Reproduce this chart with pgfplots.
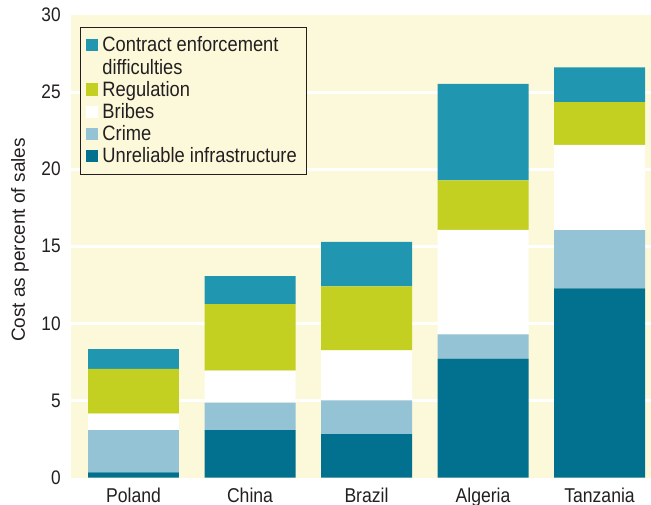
\documentclass[border=0pt]{standalone}
\usepackage{fontspec}
\setmainfont{Liberation Sans}[FakeStretch=0.88]
\newfontfamily\labfont{Liberation Sans}
\usepackage{pgfplots}
\pgfplotsset{compat=1.18}
\definecolor{bg}{HTML}{FCF9DA}
\definecolor{infra}{HTML}{02718F}
\definecolor{crime}{HTML}{93C3D4}
\definecolor{reg}{HTML}{C3D022}
\definecolor{contract}{HTML}{2196B0}
\definecolor{txt}{HTML}{231F20}
\begin{document}
\begin{tikzpicture}
\begin{axis}[
  scale only axis, width=290pt, height=231.25pt,
  ybar stacked, bar width=0.781,
  enlargelimits=false,
  xmin=-0.5365, xmax=4.442, ymin=0, ymax=30,
  xtick={0,...,4}, xticklabels={Poland,China,Brazil,Algeria,Tanzania},
  ytick={0,5,...,30},
  minor ytick={5,10,15,20,25}, yminorgrids,
  minor grid style={white, line width=1.5pt},
  major tick length=0pt, minor tick length=0pt,
  axis line style={draw=none},
  axis background/.style={fill=bg},
  tick label style={text=txt},
  /pgf/number format/assume math mode=true,
  yticklabel style={anchor=east, inner sep=0pt, xshift=-5pt, font=\fontsize{9.8}{12}\selectfont},
  xticklabel style={anchor=north, inner sep=0pt, yshift=-5pt, font=\fontsize{10}{12}\selectfont},
  ylabel={Cost as percent of sales},
  every axis y label/.style={at={(axis description cs:-0.088,0.5135)}, rotate=90, anchor=center, font=\labfont\fontsize{9.5}{11}\selectfont, text=txt},
  legend style={at={(axis description cs:0.0155,0.974)}, anchor=north west,
    fill=bg, draw=txt, line width=0.5pt, font=\fontsize{10.4}{11.2}\selectfont, text=txt,
    inner xsep=3pt, inner ysep=2.2pt, row sep=-2.4pt,
    cells={anchor=west, inner ysep=0pt, inner xsep=1.6pt, text height=8pt, text depth=3.2pt}},
  legend cell align=left,
  legend image code/.code={\fill[#1] (0pt,-3pt) rectangle (6pt,3.2pt);},
]
\addlegendimage{fill=contract, draw=none}
\addlegendimage{empty legend}
\addlegendimage{fill=reg, draw=none}
\addlegendimage{fill=white, draw=none}
\addlegendimage{fill=crime, draw=none}
\addlegendimage{fill=infra, draw=none}
\addplot[fill=infra, draw=none] coordinates {(0,0.34) (1,3.08) (2,2.82) (3,7.71) (4,12.27)};
\addplot[fill=crime, draw=none] coordinates {(0,2.74) (1,1.77) (2,2.18) (3,1.58) (4,3.78)};
\addplot[fill=white, draw=none] coordinates {(0,1.07) (1,2.08) (2,3.25) (3,6.78) (4,5.53)};
\addplot[fill=reg, draw=none] coordinates {(0,2.89) (1,4.32) (2,4.15) (3,3.20) (4,2.77)};
\addplot[fill=contract, draw=none] coordinates {(0,1.28) (1,1.82) (2,2.89) (3,6.27) (4,2.25)};
\legend{Contract enforcement, difficulties, Regulation, Bribes, Crime, Unreliable infrastructure}
\end{axis}
\pgfresetboundingbox
\useasboundingbox (-35.5pt,-13.25pt) rectangle (290pt,238.75pt);
\end{tikzpicture}
\end{document}
